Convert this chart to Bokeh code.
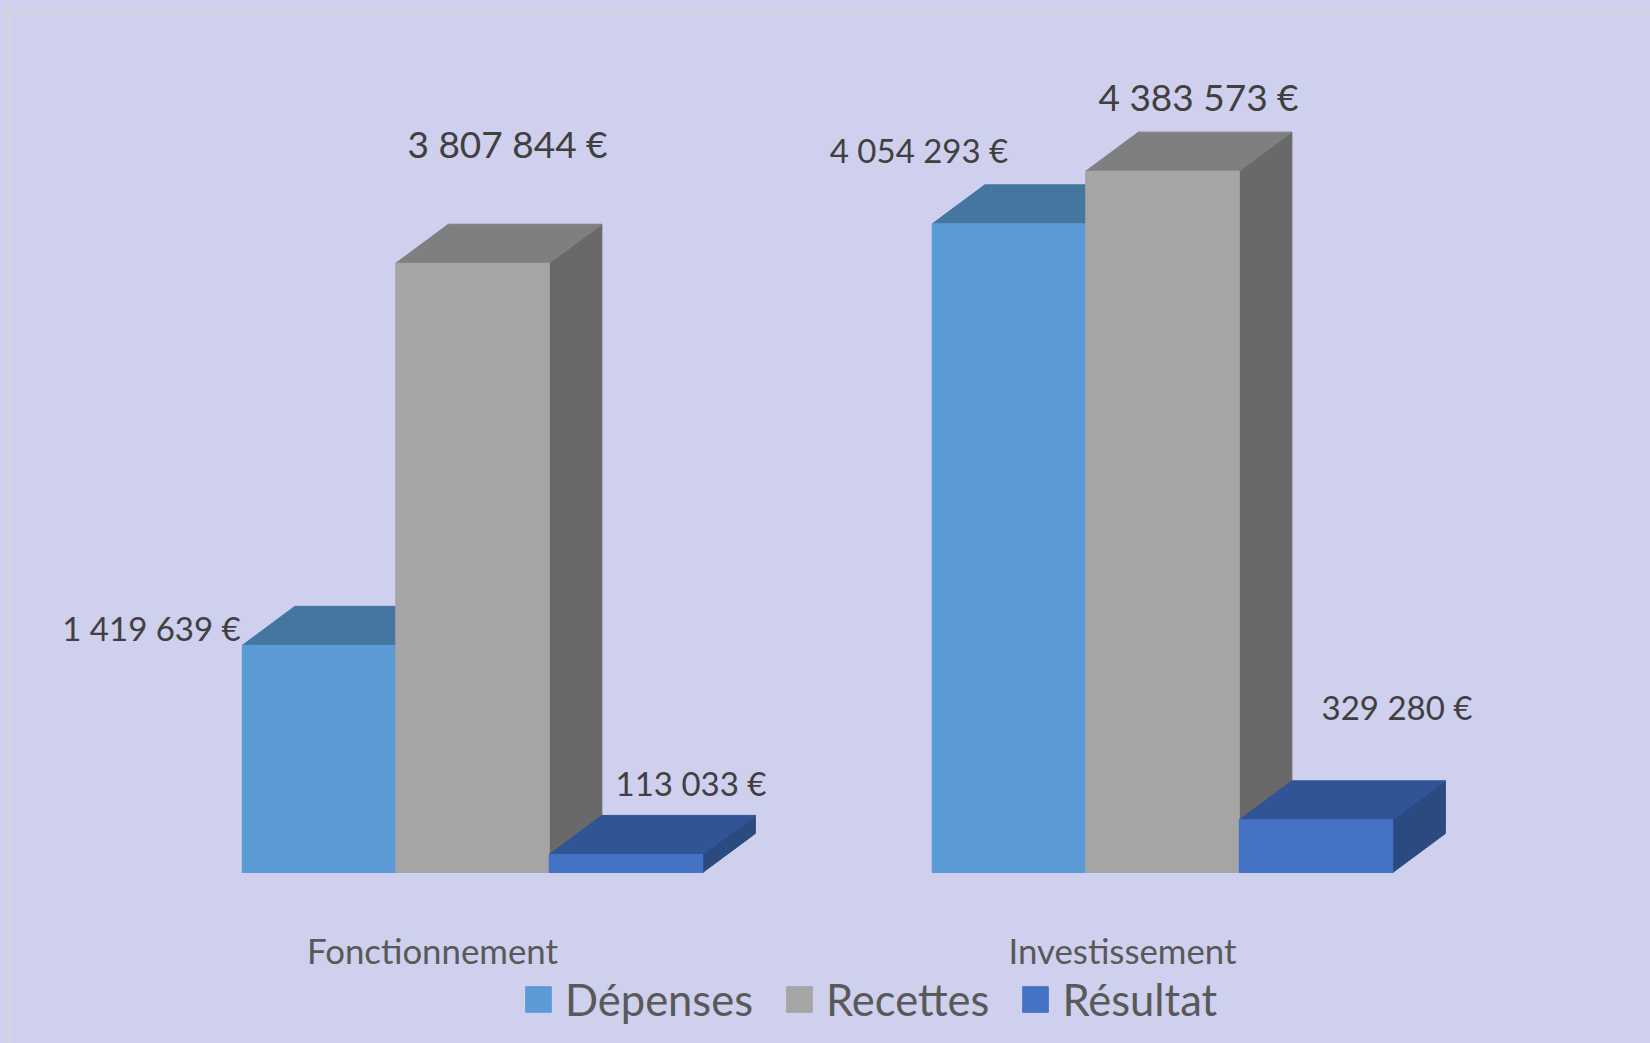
from bokeh.plotting import figure
from bokeh.models import Range1d, Legend, LegendItem, Span, GlobalInlineStyleSheet
from bokeh.core.properties import value
from bokeh.embed import file_html
from bokeh.resources import INLINE

# ---- data ----
categories = ["Fonctionnement", "Investissement"]
series_names = ["Dépenses", "Recettes", "Résultat"]
depenses = [1419639, 4054293]
recettes = [3807844, 4383573]
resultat = [113033, 329280]
series_values = [depenses, recettes, resultat]

# ---- style ----
BG = "#CFCFEE"
FONT = "Lato"
front_colors = ["#5B9BD5", "#A5A5A5", "#4472C4"]
top_colors = ["#44769F", "#7F7F7F", "#305495"]
side_colors = ["#41709A", "#696969", "#2A4A80"]

W, H = 1650, 1043
PXX = 690.0            # px per category unit
PXY = 160.0 / 1e6      # px per euro
X0 = 472.0             # px of first group centre
BASE = 872.0           # px of baseline from top

def dxu(px):
    return px / PXX

def dyu(px):
    return px / PXY

BW = dxu(153.5)
DX = dxu(52.6)
DY = dyu(39)

p = figure(width=W, height=H, output_backend="svg", toolbar_location=None,
           x_range=Range1d(-X0 / PXX, (W - X0) / PXX),
           y_range=Range1d(-(H - BASE) / PXY, BASE / PXY),
           x_axis_location=None, y_axis_location=None,
           min_border=0, background_fill_color=BG, border_fill_color=BG,
           outline_line_color=None,
           stylesheets=[GlobalInlineStyleSheet(css="html, body { background-color: #CFCFEE; }")])
p.grid.visible = False

legend_items = []
for s, vals in enumerate(series_values):
    off = (s - 1) * BW
    L = [i + off - BW / 2 for i in range(len(vals))]
    R = [i + off + BW / 2 for i in range(len(vals))]
    side_xs = [[r, r + DX, r + DX, r] for r in R]
    side_ys = [[0, DY, v + DY, v] for v in vals]
    top_xs = [[l, l + DX, r + DX, r] for l, r in zip(L, R)]
    top_ys = [[v, v + DY, v + DY, v] for v in vals]
    p.patches(side_xs, side_ys, fill_color=side_colors[s], line_color=side_colors[s], line_width=1)
    p.patches(top_xs, top_ys, fill_color=top_colors[s], line_color=top_colors[s], line_width=1)
    q = p.quad(left=L, right=R, bottom=[0] * len(vals), top=vals,
               fill_color=front_colors[s], line_color=front_colors[s], line_width=1)
    legend_items.append(LegendItem(label=series_names[s], renderers=[q]))

# value labels
lab_dx = [[-167.5, -90], [35, 36], [65, 81]]
lab_dy = [[17, 74], [120, 75], [71, 113]]
lab_size = ["33px", "37px", "33px"]
for s, vals in enumerate(series_values):
    off = (s - 1) * BW
    xs = [i + off + dxu(lab_dx[s][i]) for i in range(len(vals))]
    ys = [v + dyu(lab_dy[s][i]) for i, v in enumerate(vals)]
    txt = [f"{v:,}".replace(",", " ") + " €" for v in vals]
    p.text(xs, ys, text=txt, text_font=value(FONT), text_font_size=lab_size[s],
           text_color="#404040", text_align="center", text_baseline="middle")

# category labels
p.text([i + dxu(-40) for i in range(len(categories))], [dyu(-78)] * len(categories),
       text=categories, text_font=value(FONT), text_font_size="34.8px",
       text_color="#595959", text_align="center", text_baseline="middle")

# chart-area border
p.add_layout(Span(location=BASE / PXY - dyu(12), dimension="width", line_color="#D6D6D6", line_width=1.5))
p.add_layout(Span(location=-X0 / PXX + dxu(9), dimension="height", line_color="#D6D6D6", line_width=1.5))

legend = Legend(items=legend_items, orientation="horizontal", location=(522, 18),
                glyph_width=32, glyph_height=32, label_standoff=11, spacing=30,
                label_text_font=FONT, label_text_font_size="43.5px", label_text_color="#595959",
                background_fill_alpha=0, border_line_color=None, padding=0, margin=0)
p.add_layout(legend)

open("out.html", "w").write(file_html(p, INLINE))
